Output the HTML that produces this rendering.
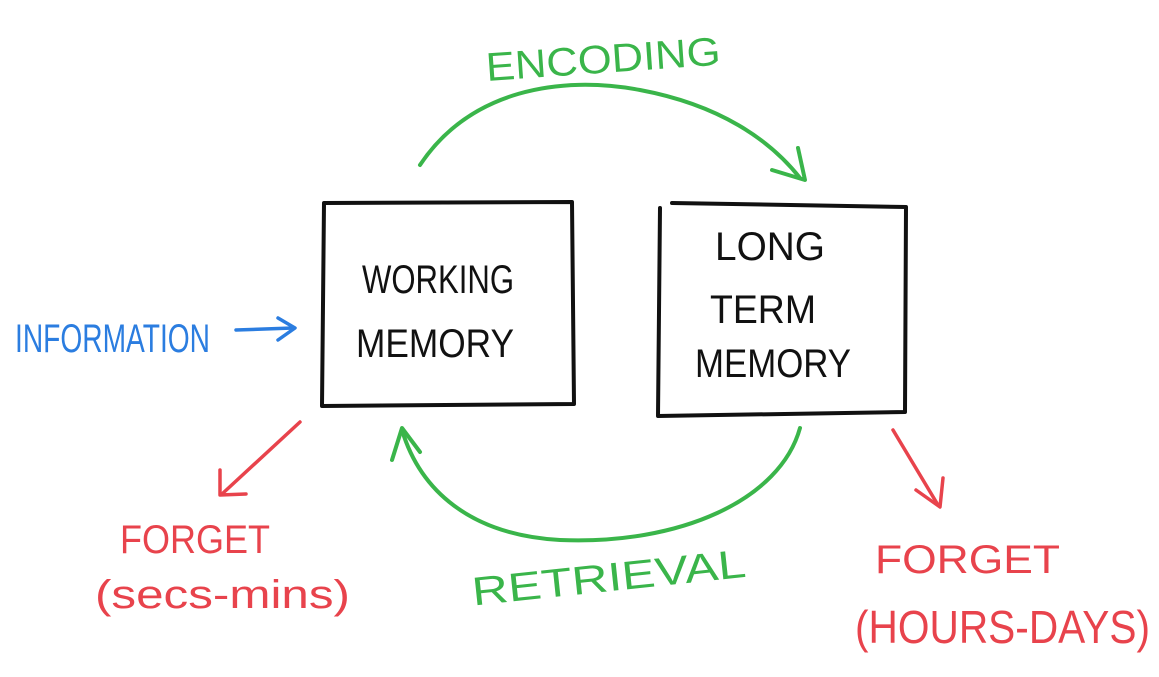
<!DOCTYPE html>
<html><head><meta charset="utf-8"><style>
html,body{margin:0;padding:0;background:#fff;}
svg{display:block}
text{font-family:"Liberation Sans",sans-serif;}
</style></head><body>
<svg width="1159" height="677" viewBox="0 0 1159 677" xmlns="http://www.w3.org/2000/svg">
<g fill="none" stroke-linecap="round" stroke-linejoin="round">
<!-- boxes -->
<path d="M324 203 L572 202 L574 404 L322 406 Z" stroke="#111" stroke-width="4"/>
<path d="M672 203 L906 207 L905 412 L658 416 L660 208" stroke="#111" stroke-width="4"/>
<!-- encoding arc -->
<path d="M420 165 C470 90 560 75 640 90 C720 105 770 140 800 178" stroke="#3ab54a" stroke-width="4"/>
<path d="M772 170 L805 180 L798 148" stroke="#3ab54a" stroke-width="4"/>
<!-- retrieval arc -->
<path d="M800 428 C780 500 680 545 560 540 C470 535 420 490 402 430" stroke="#3ab54a" stroke-width="4"/>
<path d="M392 460 L402 428 L420 452" stroke="#3ab54a" stroke-width="4"/>
<!-- info arrow -->
<path d="M236 330 L293 328" stroke="#2b7de0" stroke-width="3.5"/>
<path d="M278 318 L295 328 L278 340" stroke="#2b7de0" stroke-width="3.5"/>
<!-- red arrows -->
<path d="M300 422 L222 494" stroke="#e8434c" stroke-width="3.5"/>
<path d="M220 470 L220 495 L246 494" stroke="#e8434c" stroke-width="3.5"/>
<path d="M893 430 L938 505" stroke="#e8434c" stroke-width="3.5"/>
<path d="M916 490 L940 507 L943 478" stroke="#e8434c" stroke-width="3.5"/>
</g>
<g font-size="40">
<text x="362" y="293" textLength="152" lengthAdjust="spacingAndGlyphs" fill="#111">WORKING</text>
<text x="356" y="357" textLength="158" lengthAdjust="spacingAndGlyphs" fill="#111">MEMORY</text>
<text x="715" y="260" textLength="110" lengthAdjust="spacingAndGlyphs" fill="#111">LONG</text>
<text x="710" y="323" textLength="106" lengthAdjust="spacingAndGlyphs" fill="#111">TERM</text>
<text x="695" y="377" textLength="156" lengthAdjust="spacingAndGlyphs" fill="#111">MEMORY</text>
<text x="15" y="352" textLength="195" lengthAdjust="spacingAndGlyphs" fill="#2b7de0">INFORMATION</text>
<text x="485" y="73" textLength="235" lengthAdjust="spacingAndGlyphs" fill="#3ab54a" transform="rotate(-4 600 50)">ENCODING</text>
<text x="470" y="592" textLength="275" lengthAdjust="spacingAndGlyphs" fill="#3ab54a" transform="rotate(-6 600 565)">RETRIEVAL</text>
<text x="120" y="553" textLength="150" lengthAdjust="spacingAndGlyphs" fill="#e8434c">FORGET</text>
<text x="95" y="608" textLength="255" lengthAdjust="spacingAndGlyphs" fill="#e8434c">(secs-mins)</text>
<text x="875" y="573" textLength="185" lengthAdjust="spacingAndGlyphs" fill="#e8434c">FORGET</text>
<text x="855" y="643" font-size="46" textLength="295" lengthAdjust="spacingAndGlyphs" fill="#e8434c">(HOURS-DAYS)</text>
</g>
</svg>
</body></html>
